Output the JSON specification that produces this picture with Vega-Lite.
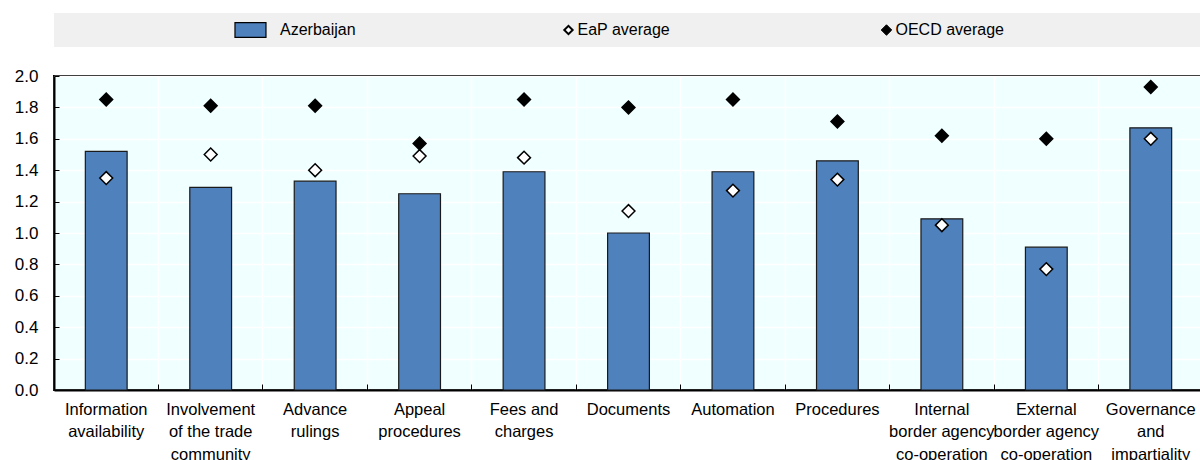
{
  "$schema": "https://vega.github.io/schema/vega-lite/v6.json",
  "background": "white",
  "padding": {"left": 13, "top": 13, "right": 0, "bottom": 0},
  "autosize": {"type": "pad"},
  "bounds": "flush",
  "spacing": 29,
  "config": {
    "font": "Liberation Sans, Arial, sans-serif",
    "view": {"stroke": null}
  },
  "datasets": {
    "scores": [
      {"area": "Information availability", "series": "Azerbaijan", "value": 1.52},
      {"area": "Involvement of the trade community", "series": "Azerbaijan", "value": 1.29},
      {"area": "Advance rulings", "series": "Azerbaijan", "value": 1.33},
      {"area": "Appeal procedures", "series": "Azerbaijan", "value": 1.25},
      {"area": "Fees and charges", "series": "Azerbaijan", "value": 1.39},
      {"area": "Documents", "series": "Azerbaijan", "value": 1.0},
      {"area": "Automation", "series": "Azerbaijan", "value": 1.39},
      {"area": "Procedures", "series": "Azerbaijan", "value": 1.46},
      {"area": "Internal border agency co-operation", "series": "Azerbaijan", "value": 1.09},
      {"area": "External border agency co-operation", "series": "Azerbaijan", "value": 0.91},
      {"area": "Governance and impartiality", "series": "Azerbaijan", "value": 1.67},
      {"area": "Information availability", "series": "EaP average", "value": 1.35},
      {"area": "Involvement of the trade community", "series": "EaP average", "value": 1.5},
      {"area": "Advance rulings", "series": "EaP average", "value": 1.4},
      {"area": "Appeal procedures", "series": "EaP average", "value": 1.49},
      {"area": "Fees and charges", "series": "EaP average", "value": 1.48},
      {"area": "Documents", "series": "EaP average", "value": 1.14},
      {"area": "Automation", "series": "EaP average", "value": 1.27},
      {"area": "Procedures", "series": "EaP average", "value": 1.34},
      {"area": "Internal border agency co-operation", "series": "EaP average", "value": 1.05},
      {"area": "External border agency co-operation", "series": "EaP average", "value": 0.77},
      {"area": "Governance and impartiality", "series": "EaP average", "value": 1.6},
      {"area": "Information availability", "series": "OECD average", "value": 1.85},
      {"area": "Involvement of the trade community", "series": "OECD average", "value": 1.81},
      {"area": "Advance rulings", "series": "OECD average", "value": 1.81},
      {"area": "Appeal procedures", "series": "OECD average", "value": 1.57},
      {"area": "Fees and charges", "series": "OECD average", "value": 1.85},
      {"area": "Documents", "series": "OECD average", "value": 1.8},
      {"area": "Automation", "series": "OECD average", "value": 1.85},
      {"area": "Procedures", "series": "OECD average", "value": 1.71},
      {"area": "Internal border agency co-operation", "series": "OECD average", "value": 1.62},
      {"area": "External border agency co-operation", "series": "OECD average", "value": 1.6},
      {"area": "Governance and impartiality", "series": "OECD average", "value": 1.93}
    ],
    "series": [
      {"series": "Azerbaijan"},
      {"series": "EaP average"},
      {"series": "OECD average"}
    ]
  },
  "vconcat": [
    {
      "width": 1149,
      "height": 34,
      "view": {"fill": "#f0f0f0", "stroke": null},
      "data": {"name": "series"},
      "layer": [
        {
          "mark": {"type": "point", "filled": true, "stroke": "black", "opacity": 1},
          "encoding": {
            "x": {"field": "series", "type": "nominal", "axis": null,
                  "scale": {"type": "point", "padding": 0.8066, "align": 0.383}},
            "fill": {"field": "series", "type": "nominal", "legend": null,
                     "scale": {"domain": ["Azerbaijan", "EaP average", "OECD average"], "range": ["#4f81bd", "white", "black"]}},
            "shape": {"field": "series", "type": "nominal", "legend": null,
                      "scale": {"domain": ["Azerbaijan", "EaP average", "OECD average"], "range": ["M-1,-0.47H1V0.47H-1Z", "diamond", "diamond"]}},
            "size": {"field": "series", "type": "nominal", "legend": null,
                     "scale": {"type": "ordinal", "domain": ["Azerbaijan", "EaP average", "OECD average"], "range": [961, 70, 110]}},
            "strokeWidth": {"field": "series", "type": "nominal", "legend": null,
                     "scale": {"type": "ordinal", "domain": ["Azerbaijan", "EaP average", "OECD average"], "range": [1.2, 2, 1]}}
          }
        },
        {
          "transform": [{"filter": "datum.series === 'Azerbaijan'"}],
          "mark": {"type": "text", "align": "left", "baseline": "middle", "dx": 29.5, "fontSize": 16, "color": "black"},
          "encoding": {
            "x": {"field": "series", "type": "nominal"},
            "text": {"field": "series"}
          }
        },
        {
          "transform": [{"filter": "datum.series !== 'Azerbaijan'"}],
          "mark": {"type": "text", "align": "left", "baseline": "middle", "dx": 9, "fontSize": 16, "color": "black"},
          "encoding": {
            "x": {"field": "series", "type": "nominal"},
            "text": {"field": "series"}
          }
        }
      ]
    },
    {
      "width": 1149,
      "height": 314,
      "view": {"fill": "#f0ffff", "stroke": "black", "strokeWidth": 2},
      "data": {"name": "scores"},
      "encoding": {
        "x": {
          "field": "area", "type": "nominal", "sort": null, "title": null,
          "scale": {"type": "band", "paddingInner": 0, "paddingOuter": 0},
          "axis": {
            "bandPosition": 0,
            "grid": true, "gridColor": "white", "gridWidth": 1.5, "gridOpacity": 1,
            "domainColor": "black", "domainWidth": 2,
            "ticks": true, "tickColor": "black", "tickSize": -6, "tickWidth": 1,
            "labelAngle": 0, "labelAlign": "center", "labelBaseline": "top",
            "labelFontSize": 16.5, "labelLineHeight": 22.5, "labelColor": "black",
            "labelPadding": 17, "labelOverlap": false, "labelLimit": 0,
            "labelExpr": "datum.value == 'Information availability' ? ['Information','availability'] : datum.value == 'Involvement of the trade community' ? ['Involvement','of the trade','community'] : datum.value == 'Advance rulings' ? ['Advance','rulings'] : datum.value == 'Appeal procedures' ? ['Appeal','procedures'] : datum.value == 'Fees and charges' ? ['Fees and','charges'] : datum.value == 'Internal border agency co-operation' ? ['Internal','border agency','co-operation'] : datum.value == 'External border agency co-operation' ? ['External','border agency','co-operation'] : datum.value == 'Governance and impartiality' ? ['Governance','and','impartiality'] : datum.value"
          }
        },
        "y": {
          "field": "value", "type": "quantitative", "title": null,
          "scale": {"domain": [0, 2], "nice": false},
          "axis": {
            "values": [0, 0.2, 0.4, 0.6, 0.8, 1.0, 1.2, 1.4, 1.6, 1.8, 2.0],
            "format": ".1f",
            "grid": true, "gridColor": "white", "gridWidth": 1.5, "gridOpacity": 1,
            "domainColor": "black", "domainWidth": 2,
            "tickColor": "black", "tickSize": -5, "tickWidth": 1,
            "labelFontSize": 17, "labelColor": "black", "labelPadding": 21
          }
        }
      },
      "layer": [
        {
          "transform": [{"filter": "datum.series === 'Azerbaijan'"}],
          "mark": {"type": "bar", "width": {"band": 0.4}, "stroke": "#1a1a1a", "strokeWidth": 1.2, "opacity": 1},
          "encoding": {
            "fill": {"field": "series", "type": "nominal", "legend": null}
          }
        },
        {
          "transform": [{"filter": "datum.series !== 'Azerbaijan'"}],
          "mark": {"type": "point", "filled": true, "stroke": "black", "strokeWidth": 1.5, "size": 165, "opacity": 1},
          "encoding": {
            "fill": {"field": "series", "type": "nominal", "legend": null},
            "shape": {"field": "series", "type": "nominal", "legend": null}
          }
        }
      ]
    }
  ]
}
